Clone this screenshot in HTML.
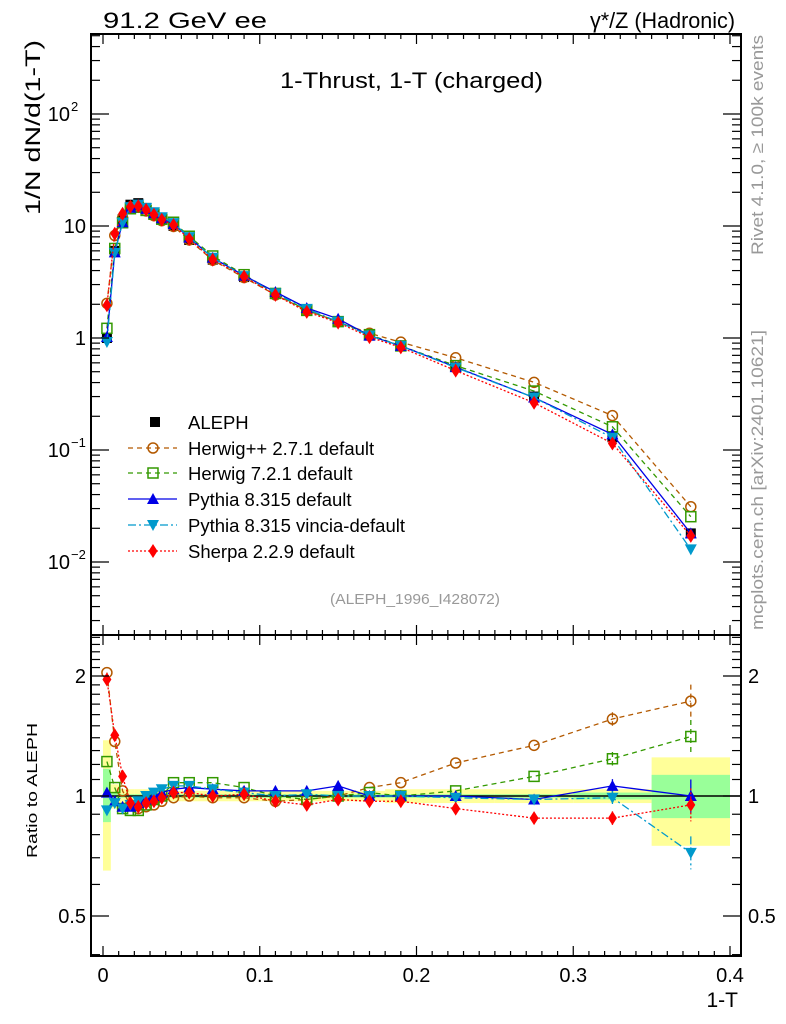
<!DOCTYPE html>
<html><head><meta charset="utf-8"><style>
body{margin:0;background:#fff}
svg{display:block;font-family:"Liberation Sans",sans-serif}
</style></head><body>
<svg id="c" width="786" height="1024" viewBox="0 0 786 1024">
<rect x="0" y="0" width="786" height="1024" fill="#fff"/>
<g id="bands"></g><g id="marks"></g><g id="axes"></g>
<text x="103" y="28" font-size="22" textLength="164" lengthAdjust="spacingAndGlyphs">91.2 GeV ee</text>
<text x="590" y="28" font-size="22" textLength="145" lengthAdjust="spacingAndGlyphs">γ*/Z (Hadronic)</text>
<text x="280" y="88" font-size="22" textLength="263" lengthAdjust="spacingAndGlyphs">1-Thrust, 1-T (charged)</text>
<text x="330" y="604" font-size="15" fill="#999" textLength="170" lengthAdjust="spacingAndGlyphs">(ALEPH_1996_I428072)</text>
<text transform="translate(40,215) rotate(-90)" font-size="21" textLength="175" lengthAdjust="spacingAndGlyphs">1/N   dN/d(1-T)</text>
<text transform="translate(37,858) rotate(-90)" font-size="15" textLength="135" lengthAdjust="spacingAndGlyphs">Ratio to ALEPH</text>
<text x="738" y="1007" font-size="21" text-anchor="end">1-T</text>
<text transform="translate(763,255) rotate(-90)" font-size="17" fill="#999" textLength="220" lengthAdjust="spacingAndGlyphs">Rivet 4.1.0, ≥ 100k events</text>
<text transform="translate(763,630) rotate(-90)" font-size="17" fill="#999" textLength="300" lengthAdjust="spacingAndGlyphs">mcplots.cern.ch [arXiv:2401.10621]</text>
<g id="legend"></g>
</svg>
<script>
const binLo=[0,0.005,0.01,0.015,0.02,0.025,0.03,0.035,0.04,0.05,0.06,0.08,0.1,0.12,0.14,0.16,0.18,0.2,0.25,0.3,0.35];
const binHi=[0.005,0.01,0.015,0.02,0.025,0.03,0.035,0.04,0.05,0.06,0.08,0.1,0.12,0.14,0.16,0.18,0.2,0.25,0.3,0.35,0.4];
const aleph=[1.0,6.0,11.5,15.5,16,14.5,13,11.5,10,7.5,5,3.5,2.5,1.8,1.4,1.05,0.85,0.55,0.3,0.13,0.018];
const bandTotLo=[0.65,0.93,0.96,0.96,0.96,0.96,0.97,0.97,0.97,0.97,0.97,0.97,0.97,0.97,0.97,0.97,0.96,0.96,0.96,0.96,0.75];
const bandTotHi=[1.38,1.07,1.04,1.04,1.04,1.04,1.03,1.03,1.03,1.03,1.03,1.03,1.03,1.03,1.03,1.03,1.04,1.04,1.04,1.04,1.25];
const bandStatLo=[0.86,0.98,0.99,0.99,0.99,0.99,0.99,0.99,0.99,0.99,0.99,0.99,0.99,0.99,0.99,0.99,0.99,0.99,0.99,0.98,0.88];
const bandStatHi=[1.17,1.02,1.01,1.01,1.01,1.01,1.01,1.01,1.01,1.01,1.01,1.01,1.01,1.01,1.01,1.01,1.01,1.01,1.01,1.02,1.13];
const rHpp=[2.04,1.37,1.03,0.95,0.93,0.94,0.95,0.97,0.99,1.0,0.99,0.99,0.97,0.98,1.0,1.05,1.08,1.21,1.34,1.56,1.73];
const rH7=[1.22,1.05,0.93,0.92,0.92,0.95,0.98,1.0,1.08,1.08,1.08,1.05,1.0,0.98,1.0,1.02,1.0,1.03,1.12,1.24,1.41];
const rPy=[1.02,0.97,0.94,0.94,0.96,0.98,1.0,1.02,1.04,1.05,1.04,1.03,1.03,1.03,1.06,1.0,1.0,1.0,0.98,1.06,1.0];
const rVin=[0.92,0.96,0.93,0.95,0.97,1.0,1.02,1.04,1.06,1.06,1.04,1.02,1.0,1.01,1.0,1.0,1.0,0.99,0.98,0.99,0.72];
const rSh=[1.96,1.42,1.12,0.96,0.94,0.96,0.97,0.99,1.02,1.02,1.0,1.01,0.97,0.95,0.98,0.97,0.97,0.93,0.88,0.88,0.95];
const seriesNames=["Herwig++ 2.7.1 default","Herwig 7.2.1 default","Pythia 8.315 default","Pythia 8.315 vincia-default","Sherpa 2.2.9 default"];
const xTicks=[0,0.1,0.2,0.3,0.4];
const xTickLabels=["0","0.1","0.2","0.3","0.4"];
const yTicks=[-2,-1,0,1,2];
const yTickLabels=["10","10","1","10","10"];
const yTickExp=["−2","−1","","","2"];
const rTicks=[0.5,1,2];
const rTickLabels=["0.5","1","2"];

const NS="http://www.w3.org/2000/svg";
const L=91,R=741,T=34,M=635,B=956;
const X=v=>103+v*1567.5;
const Y=v=>338-112*Math.log10(v);
const YR=v=>796-120*Math.log2(v);
function mk(p,tag,at){const e=document.createElementNS(NS,tag);for(const k in at)e.setAttribute(k,at[k]);p.appendChild(e);return e;}
const bands=document.getElementById('bands'),marks=document.getElementById('marks'),axes=document.getElementById('axes'),leg=document.getElementById('legend');

for(let i=0;i<binLo.length;i++){
 const a=mk(bands,'rect',{x:X(binLo[i]),y:YR(bandTotHi[i]),width:X(binHi[i])-X(binLo[i]),height:YR(bandTotLo[i])-YR(bandTotHi[i]),fill:'#ffff99'});
 
 
 const b=mk(bands,'rect',{x:X(binLo[i]),y:YR(bandStatHi[i]),width:X(binHi[i])-X(binLo[i]),height:YR(bandStatLo[i])-YR(bandStatHi[i]),fill:'#99ff99'});
 
 
}
const ref=mk(bands,'line',{x1:L,x2:R,y1:YR(1),y2:YR(1),stroke:'#000','stroke-width':1.5});



const styles=[
 {c:'#b35900',d:'5,4',m:'circle'},
 {c:'#339900',d:'5,4',m:'square'},
 {c:'#0000e6',d:'',m:'tri'},
 {c:'#0099cc',d:'8,3,2,3',m:'tri-down'},
 {c:'#ff0000',d:'2,2',m:'diamond'}];
const ratios=[rHpp,rH7,rPy,rVin,rSh];
const xc=i=>(binLo[i]+binHi[i])/2;
function marker(p,type,x,y,c,name){
 let e;
 if(type==='circle')e=mk(p,'circle',{cx:x,cy:y,r:5,fill:'none',stroke:c,'stroke-width':1.5});
 else if(type==='square')e=mk(p,'rect',{x:x-5,y:y-5,width:10,height:10,fill:'none',stroke:c,'stroke-width':1.5});
 else if(type==='tri')e=mk(p,'polygon',{points:`${x},${y-6} ${x-6},${y+5} ${x+6},${y+5}`,fill:c});
 else if(type==='tri-down')e=mk(p,'polygon',{points:`${x},${y+6} ${x-6},${y-5} ${x+6},${y-5}`,fill:c});
 else if(type==='diamond')e=mk(p,'polygon',{points:`${x},${y-7} ${x-4.5},${y} ${x},${y+7} ${x+4.5},${y}`,fill:c});
 else e=mk(p,'rect',{x:x-5,y:y-5,width:10,height:10,fill:c});
 
 
}
for(let i=0;i<aleph.length;i++){marker(marks,'sq',X(xc(i)),Y(aleph[i]),'#000','aleph-point');}
ratios.forEach((r,s)=>{
 const st=styles[s];
 const main=r.map((v,i)=>X(xc(i))+','+Y(aleph[i]*v)).join(' ');
 const rat=r.map((v,i)=>X(xc(i))+','+YR(v)).join(' ');
 const l1=mk(marks,'polyline',{points:main,fill:'none',stroke:st.c,'stroke-width':1.3,'stroke-dasharray':st.d});
 
 
 const l2=mk(marks,'polyline',{points:rat,fill:'none',stroke:st.c,'stroke-width':1.3,'stroke-dasharray':st.d});
 
 
 for(let i=0;i<r.length;i++){
  if(i>=19){const e=mk(marks,'line',{x1:X(xc(i)),x2:X(xc(i)),y1:YR(r[i]*(i==20?1.1:1.04)),y2:YR(r[i]/(i==20?1.1:1.04)),stroke:st.c,'stroke-width':1.3,'stroke-dasharray':st.d});
   
   }
  marker(marks,st.m,X(xc(i)),Y(aleph[i]*r[i]),st.c,'series-point');
  marker(marks,st.m,X(xc(i)),YR(r[i]),st.c,'ratio-point');
 }
});
[[T,M],[M,B]].forEach(([t,b])=>{const f=mk(axes,'rect',{x:L,y:t,width:R-L,height:b-t,fill:'none',stroke:'#000','stroke-width':2});
 
 });
for(let k=0;k<=40;k++){const v=k/100,x=X(v),len=k%10==0?10:5;
 [T,M].forEach(yy=>mk(axes,'line',{x1:x,x2:x,y1:yy,y2:yy+len,stroke:'#000','stroke-width':1.2}));
 [M,B].forEach(yy=>mk(axes,'line',{x1:x,x2:x,y1:yy,y2:yy-len,stroke:'#000','stroke-width':1.2}));}
xTicks.forEach((v,i)=>{const t=mk(axes,'text',{x:X(v),y:B+26,'font-size':20,'text-anchor':'middle'});t.textContent=xTickLabels[i];
 
 });
for(let d=-3;d<=2;d++)for(let m=1;m<10;m++){const v=m*Math.pow(10,d),y=Y(v);if(y<T||y>M)continue;const len=m==1?18:9;
 mk(axes,'line',{x1:L,x2:L+len,y1:y,y2:y,stroke:'#000','stroke-width':1.2});
 mk(axes,'line',{x1:R,x2:R-len,y1:y,y2:y,stroke:'#000','stroke-width':1.2});}
yTicks.forEach((e,i)=>{const t=mk(axes,'text',{x:yTickExp[i]?70:86,y:Y(Math.pow(10,e))+7,'font-size':20,'text-anchor':'end'});t.textContent=yTickLabels[i];
 
 
 if(yTickExp[i]){const s=mk(axes,'text',{x:71,y:Y(Math.pow(10,e))-3,'font-size':13});s.textContent=yTickExp[i];
  
  }});
[0.4,0.5,0.6,0.7,0.8,0.9,1,1.1,1.2,1.3,1.4,1.5,1.6,1.7,1.8,1.9,2,2.1,2.2,2.3,2.4,2.5].forEach(v=>{const y=YR(v);if(y<M||y>B)return;const len=(v==0.5||v==1||v==2)?18:9;
 mk(axes,'line',{x1:L,x2:L+len,y1:y,y2:y,stroke:'#000','stroke-width':1.2});
 mk(axes,'line',{x1:R,x2:R-len,y1:y,y2:y,stroke:'#000','stroke-width':1.2});});
rTicks.forEach((v,i)=>{[[86,'end'],[748,'start']].forEach(([x,a])=>{const t=mk(axes,'text',{x:x,y:YR(v)+7,'font-size':20,'text-anchor':a});t.textContent=rTickLabels[i];
 
 });});
const ly=[422,448,473,499,525,551];
marker(leg,'sq',155,ly[0],'#000','legend-marker-aleph');
const t0=mk(leg,'text',{x:188,y:ly[0]+7,'font-size':18.5});t0.textContent='ALEPH';


seriesNames.forEach((n,s)=>{const st=styles[s],y=ly[s+1];
 mk(leg,'line',{x1:128,x2:177,y1:y,y2:y,stroke:st.c,'stroke-width':1.3,'stroke-dasharray':st.d});
 marker(leg,st.m,153,y,st.c,'legend-marker');
 const t=mk(leg,'text',{x:188,y:y+7,'font-size':18.5});t.textContent=n;
 
 });
</script>
</body></html>
